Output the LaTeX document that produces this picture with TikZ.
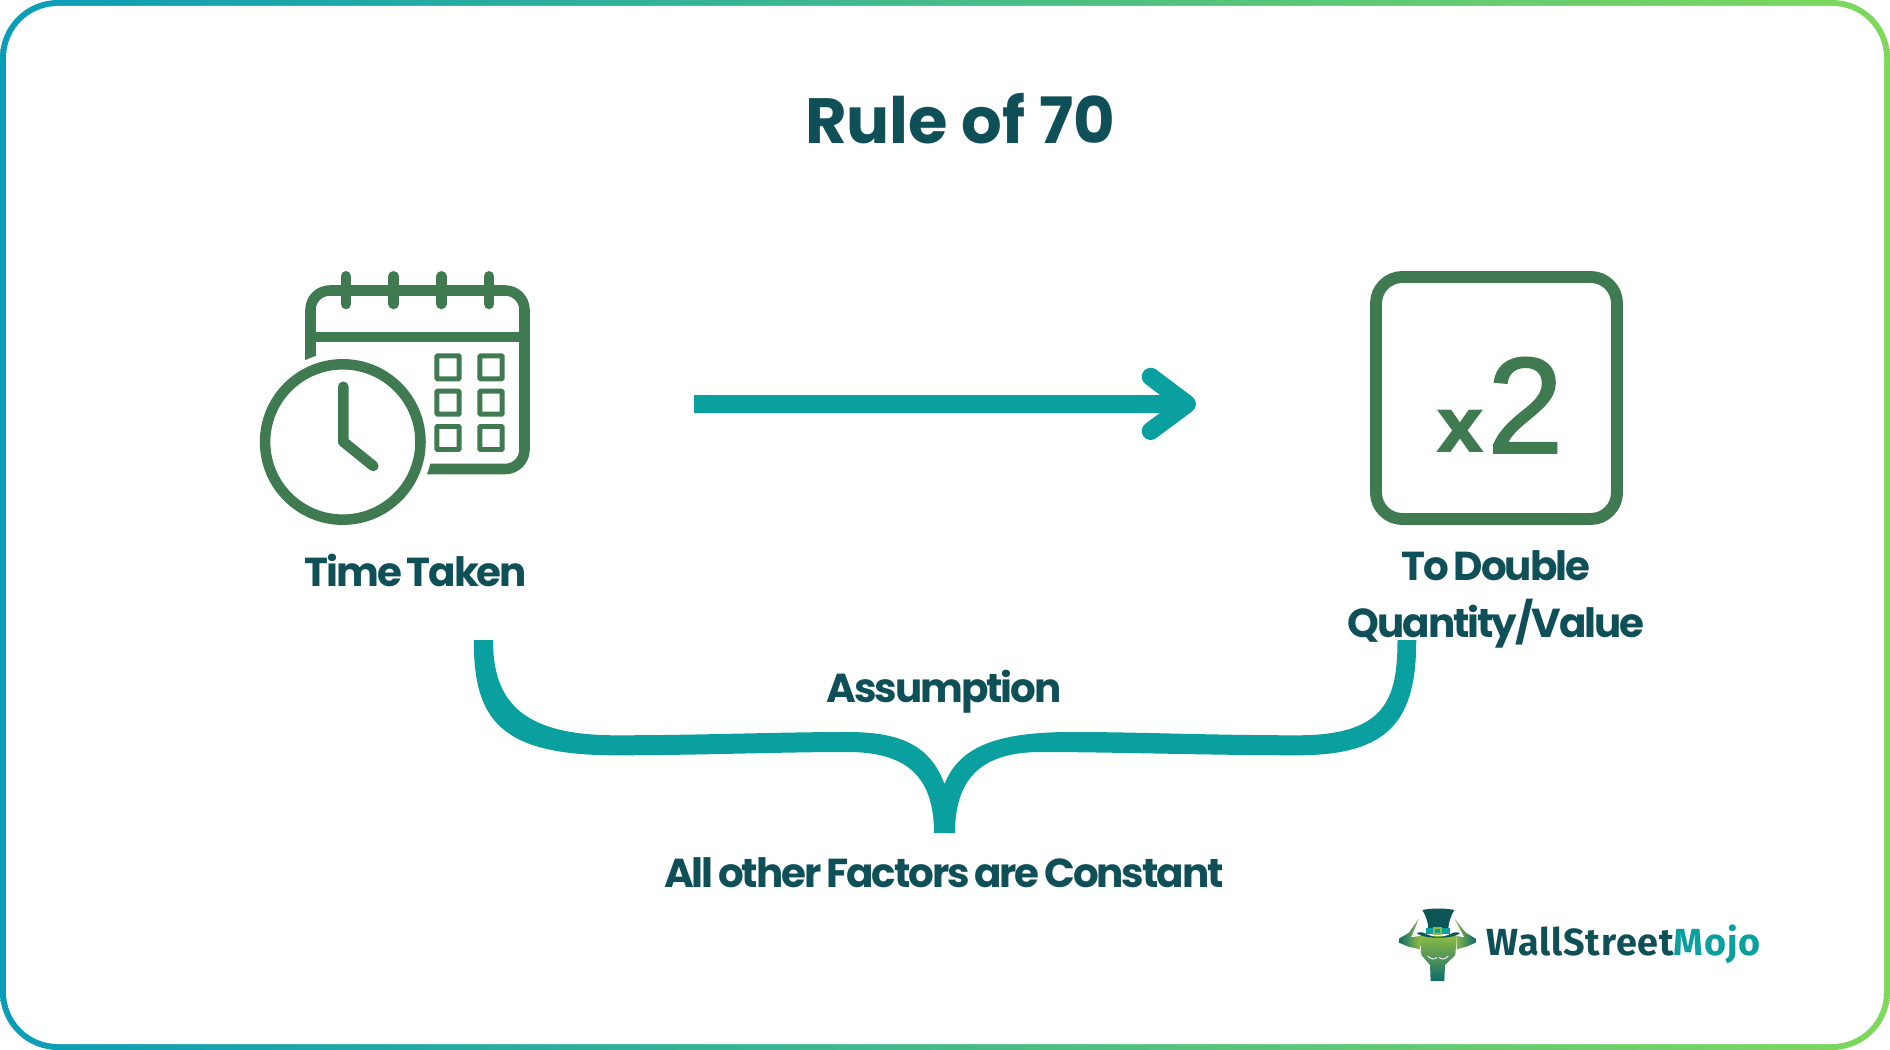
\documentclass[tikz,border=0pt]{standalone}
\usepackage{fontspec}
\setmainfont{Poppins}
\newfontfamily\labelfont{Poppins}[LetterSpace=-5.1,WordSpace=0.7]
\newfontfamily\logofont{Fira Sans}[LetterSpace=2.2]
\newfontfamily\signfont{Liberation Sans}[FakeBold=1.2]
\newfontfamily\crossfont{DejaVu Sans}
\usetikzlibrary{positioning}
\definecolor{inkdark}{HTML}{0F4F57}
\definecolor{iconGreen}{HTML}{3F7A50}
\definecolor{tealMain}{HTML}{0AA09F}
\definecolor{frameLeft}{HTML}{0A9DB8}
\definecolor{frameMid}{HTML}{35B084}
\definecolor{frameRight}{HTML}{7ED95B}
\definecolor{bullLight}{HTML}{8DBB45}
\definecolor{bullDark}{HTML}{0F6B6B}
\tikzset{
    titlelabel/.style={font=\fontsize{36.4}{40}\selectfont\bfseries,text=inkdark,anchor=base},
    sidelabel/.style={font=\fontsize{23}{27}\selectfont\labelfont\bfseries,text=inkdark,anchor=base},
    iconline/.style={draw=iconGreen,line width=6pt,line cap=round,line join=round},
    daybox/.style={draw=iconGreen,line width=2.8pt,rounded corners=0.5pt},
    flowline/.style={draw=tealMain,line width=10.2pt}
}
\begin{document}
\begin{tikzpicture}[x=0.02cm,y=-0.02cm]
    \useasboundingbox (0,0) rectangle (1890,1050);
    % Frame
    \shade[rounded corners=1.16cm,left color=frameLeft,middle color=frameMid,right color=frameRight]
        (0,0) rectangle (1890,1050);
    \fill[white,rounded corners=1.04cm] (6,6) rectangle (1884,1044);

    % Title
    \node[titlelabel] (title) at (960,144) {Rule of 70};

    % Calendar
    \draw[iconline,line cap=butt,rounded corners=11pt] (310.5,375) -- (310.5,290.5) -- (524.5,290.5) -- (524.5,469) -- (410,469);
    \draw[iconline,line cap=butt] (310.5,337) -- (524.5,337);
    \draw[iconline] (346,276.3) -- (346,304);
    \draw[iconline] (393.7,276.3) -- (393.7,304);
    \draw[iconline] (441.3,276.3) -- (441.3,304);
    \draw[iconline] (489,276.3) -- (489,304);
    \draw[daybox] (436.8,355.8) rectangle (459.2,378.8);
    \draw[daybox] (479.8,355.8) rectangle (502.2,378.8);
    \draw[daybox] (436.8,391.2) rectangle (459.2,414.2);
    \draw[daybox] (479.8,391.2) rectangle (502.2,414.2);
    \draw[daybox] (436.8,426.5) rectangle (459.2,449.5);
    \draw[daybox] (479.8,426.5) rectangle (502.2,449.5);

    % Clock
    \fill[white] (342.8,442) circle (90);
    \draw[iconline] (342.8,442) circle (77.7);
    \draw[iconline] (343.3,386.7) -- (343.3,441.7) -- (373.3,466);

    % Arrow
    \coordinate (arrowstart) at (694,404);
    \coordinate (arrowtip) at (1187,404);
    \coordinate (headtop) at (1150.7,376.7);
    \coordinate (headbot) at (1150.7,431);
    \draw[flowline] (arrowstart) -- (arrowtip);
    \draw[flowline,line cap=round,line join=round] (headtop) -- (arrowtip) -- (headbot);

    % Doubling box
    \draw[iconline,line width=6.8pt,rounded corners=15pt] (1376,277) rectangle (1617,519);
    \node[anchor=base west,inner sep=0pt,text=iconGreen] (timestwo) at (1435.5,453)
        {\crossfont\fontsize{44}{50}\selectfont\textbf{x}\signfont\hspace{0.8pt}\fontsize{78}{80}\selectfont 2};

    % Labels
    \node[sidelabel] (timetaken) at (416,586.5) {Time Taken};
    \node[sidelabel] (todouble) at (1496,580.5) {To Double};
    \node[sidelabel] (quantity) at (1496,637.5) {Quantity/Value};
    \node[sidelabel] (assumption) at (944,702.5) {Assumption};
    \node[sidelabel] (constant) at (944,887.5) {All other Factors are Constant};

    % Brace
    \fill[tealMain] (473.75,640) .. controls (473.75,720) and (500,755.3) .. (616,755.3)
        .. controls (700,755.3) and (780,752) .. (847.5,752)
        .. controls (905,752) and (934,775) .. (934,833) -- (955,833)
        .. controls (955,775) and (985,752) .. (1041,752)
        .. controls (1110,752) and (1210,755.3) .. (1297.5,755.3)
        .. controls (1390,755.3) and (1416.25,720) .. (1416.25,640) -- (1397.5,640)
        .. controls (1397.5,700) and (1385,735.3) .. (1297.5,735.3)
        .. controls (1210,735.3) and (1140,732) .. (1072.5,732)
        .. controls (1000,732) and (960,745) .. (944.5,784)
        .. controls (930,745) and (900,732) .. (847.5,732)
        .. controls (780,732) and (700,735.3) .. (616,735.3)
        .. controls (520,735.3) and (493,700) .. (493,640) -- cycle;

    % Logo
    \begin{scope}[shift={(1395,900)},x=0.00667cm,y=-0.00667cm]
        \shade[top color=bullLight,bottom color=bullDark] (75,108) -- (185,108) -- (181,165) -- (150,195) -- (148,243) -- (107,243) -- (105,195) -- (79,165) -- cycle;
        \shade[left color=bullDark,right color=bullLight] (72,55) -- (42,98) -- (12,116) -- (12,128) -- (40,140) -- (75,148) -- (75,108) -- (48,112) -- cycle;
        \shade[right color=bullDark,left color=bullLight] (178,55) -- (212,98) -- (242,116) -- (242,128) -- (214,140) -- (185,148) -- (185,108) -- (208,112) -- cycle;
        \fill[bullDark!80!black] (82,30) .. controls (110,24) and (150,24) .. (178,30) .. controls (166,50) and (160,70) .. (160,88) -- (100,88) .. controls (100,70) and (94,50) .. (82,30) -- cycle;
        \fill[tealMain] (93,84) rectangle (165,102);
        \fill[bullDark!80!black] (65,99) .. controls (90,90) and (92,110) .. (130,111) .. controls (168,110) and (170,90) .. (195,99) .. controls (180,118) and (80,118) .. (65,99) -- cycle;
        \draw[bullLight,line width=1.2pt] (116,85) rectangle (139,102);
        \draw[white,line width=0.5pt] (98,168) .. controls (108,178) and (118,180) .. (126,172);
        \draw[white,line width=0.5pt] (160,168) .. controls (150,178) and (140,180) .. (132,172);
    \end{scope}
    \node[anchor=base west,inner sep=0pt,font=\fontsize{21.5}{26}\selectfont\logofont\bfseries,text=inkdark] (logotext) at (1486,955)
        {WallStreet\textcolor{tealMain}{Mojo}};
\end{tikzpicture}
\end{document}
